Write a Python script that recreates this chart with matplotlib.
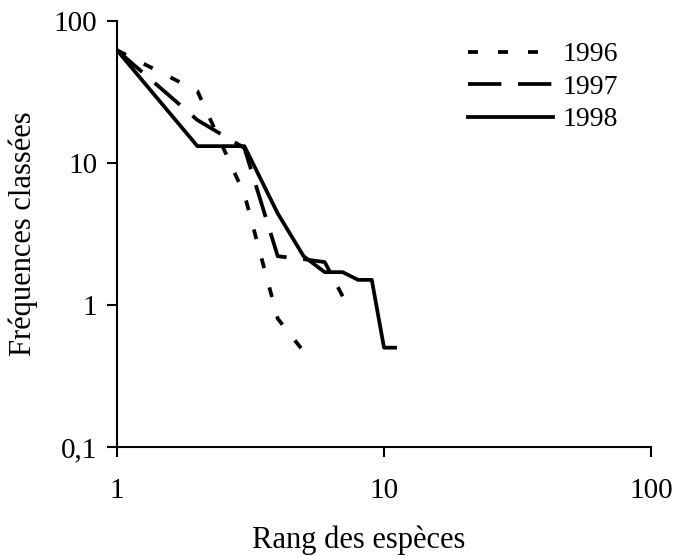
import numpy as np
import matplotlib
matplotlib.use("Agg")
import matplotlib.pyplot as plt
from matplotlib.ticker import FixedLocator, NullLocator

# rang des especes et frequences classees
rang_1996 = [1, 2, 3, 4, 5]
freq_1996 = [62, 32, 6.0, 0.8, 0.47]

rang_1997 = [1, 2, 3, 4, 5, 6, 7]
freq_1997 = [62, 20, 12.7, 2.2, 2.1, 2.0, 1.15]

rang_1998 = [1, 2, 3, 4, 5, 6, 7, 8, 9, 10, 11]
freq_1998 = [62, 13.1, 13.1, 4.4, 2.2, 1.7, 1.7, 1.5, 1.5, 0.5, 0.5]

annees = ["1996", "1997", "1998"]
x_ticks = [1, 10, 100]
x_labels = ["1", "10", "100"]
y_ticks = [0.1, 1, 10, 100]
y_labels = ["0,1", "1", "10", "100"]

plt.rcParams['font.family'] = ['Liberation Serif', 'DejaVu Serif']
plt.rcParams['lines.scale_dashes'] = False

W, H = 677, 556
fig = plt.figure(figsize=(W / 100, H / 100), dpi=100)
# axes en pixels: x 117..651, y 20.7..447
ax = fig.add_axes([117 / W, 1 - 447 / H, (651 - 117) / W, (447 - 20.7) / H])

lw = 2.7
ax.plot(rang_1996, freq_1996, color="black", lw=lw, dashes=(7.2, 14.4),
        label=annees[0])
ax.plot(rang_1997, freq_1997, color="black", lw=lw, dashes=(24, 12),
        label=annees[1])
ax.plot(rang_1998, freq_1998, color="black", lw=lw, label=annees[2])

ax.set_xscale("log")
ax.set_yscale("log")
ax.set_xlim(1, 100)
ax.set_ylim(0.1, 100)

ax.xaxis.set_major_locator(FixedLocator(x_ticks))
ax.xaxis.set_minor_locator(NullLocator())
ax.set_xticklabels(x_labels)
ax.yaxis.set_major_locator(FixedLocator(y_ticks))
ax.yaxis.set_minor_locator(NullLocator())
ax.set_yticklabels(y_labels)

for s in ["top", "right"]:
    ax.spines[s].set_visible(False)
for s in ["left", "bottom"]:
    ax.spines[s].set_linewidth(1.5)

ax.tick_params(axis="both", direction="out", length=7, width=1.5,
               labelsize=21)
ax.tick_params(axis="y", pad=7)
ax.tick_params(axis="x", pad=15)

ax.set_xlabel("Rang des espèces", fontsize=22)
ax.set_ylabel("Fréquences classées", fontsize=22)
ax.xaxis.set_label_coords((359 - 117) / (651 - 117), -0.185)
ax.yaxis.set_label_coords(-0.148, 0.5)

leg = ax.legend(loc="upper left", bbox_to_anchor=(468 / W, 1 - 42 / H),
                bbox_transform=fig.transFigure, frameon=False, fontsize=20,
                handlelength=3.06, handletextpad=0.36, labelspacing=0.25,
                borderpad=0, borderaxespad=0)

fig.savefig("out.png", dpi=100)
